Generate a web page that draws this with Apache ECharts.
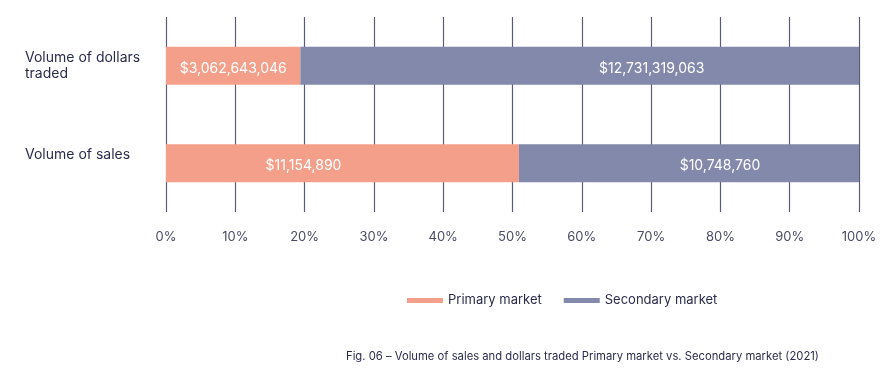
<!DOCTYPE html>
<html><head><meta charset="utf-8">
<script src="https://cdn.jsdelivr.net/npm/echarts@6/dist/echarts.min.js"></script>
<style>html,body{margin:0;padding:0;background:#fff}#c{width:892px;height:379px}</style>
</head><body><div id="c"></div>
<script>
const categories = ["Volume of dollars\ntraded", "Volume of sales"];
const primaryValues = [3062643046, 11154890];
const secondaryValues = [12731319063, 10748760];
const seriesNames = ["Primary market", "Secondary market"];
const tickLabels = ["0%","10%","20%","30%","40%","50%","60%","70%","80%","90%","100%"];
const caption = "Fig. 06 \u2013 Volume of sales and dollars traded Primary market vs. Secondary market (2021)";

// label placement tweaks (layout only)
const primaryLabelOffsets = [[0, 3], [-39, 3]];
const secondaryLabelOffsets = [[72, 3], [31, 3]];

const totals = primaryValues.map((v, i) => v + secondaryValues[i]);
const pct = (arr, offs) => arr.map((v, i) => ({ value: v / totals[i] * 100, raw: v, label: { offset: offs[i] } }));
const fmt = v => "$" + v.toLocaleString("en-US");
const font = "Inter, 'Liberation Sans', sans-serif";
const textColor = "#2a2c4e";

const chart = echarts.init(document.getElementById("c"), null, { renderer: "canvas" });
chart.setOption({
  animation: false,
  textStyle: { fontFamily: font },
  title: {
    text: caption, left: 341, top: 346,
    textStyle: { fontSize: 11.25, fontWeight: "normal", color: textColor, fontFamily: font }
  },
  legend: {
    data: seriesNames, left: 402, top: 289, itemWidth: 36, itemHeight: 5, itemGap: 22,
    icon: "rect",
    textStyle: { fontSize: 13, color: textColor, fontFamily: font }
  },
  grid: { left: 166, right: 33, top: 17, bottom: 167, containLabel: false },
  xAxis: {
    type: "value", min: 0, max: 100, interval: 10,
    axisLine: { show: false }, axisTick: { show: false },
    splitLine: { show: true, lineStyle: { color: "#5b5c78", width: 1.2 } },
    axisLabel: {
      margin: 19, fontSize: 13, color: "#4a4b68", fontFamily: font,
      formatter: (v) => tickLabels[Math.round(v / 10)]
    }
  },
  yAxis: {
    type: "category", data: categories, inverse: true,
    axisLine: { show: false }, axisTick: { show: false },
    axisLabel: {
      align: "left", margin: 141, fontSize: 14, lineHeight: 16, color: textColor, fontFamily: font,
      formatter: (v) => v.indexOf("\n") < 0 ? v + "\n\u00a0" : v
    }
  },
  series: [
    {
      name: seriesNames[0], type: "bar", stack: "total", barWidth: 38,
      itemStyle: { color: "#f49f89" },
      label: { show: true, position: "inside", color: "#fff", fontSize: 14, fontFamily: font,
        formatter: p => fmt(p.data.raw) },
      data: pct(primaryValues, primaryLabelOffsets)
    },
    {
      name: seriesNames[1], type: "bar", stack: "total", barWidth: 38,
      itemStyle: { color: "#8289ab" },
      label: { show: true, position: "inside", color: "#fff", fontSize: 14, fontFamily: font,
        formatter: p => fmt(p.data.raw) },
      data: pct(secondaryValues, secondaryLabelOffsets)
    }
  ]
});
</script></body></html>
